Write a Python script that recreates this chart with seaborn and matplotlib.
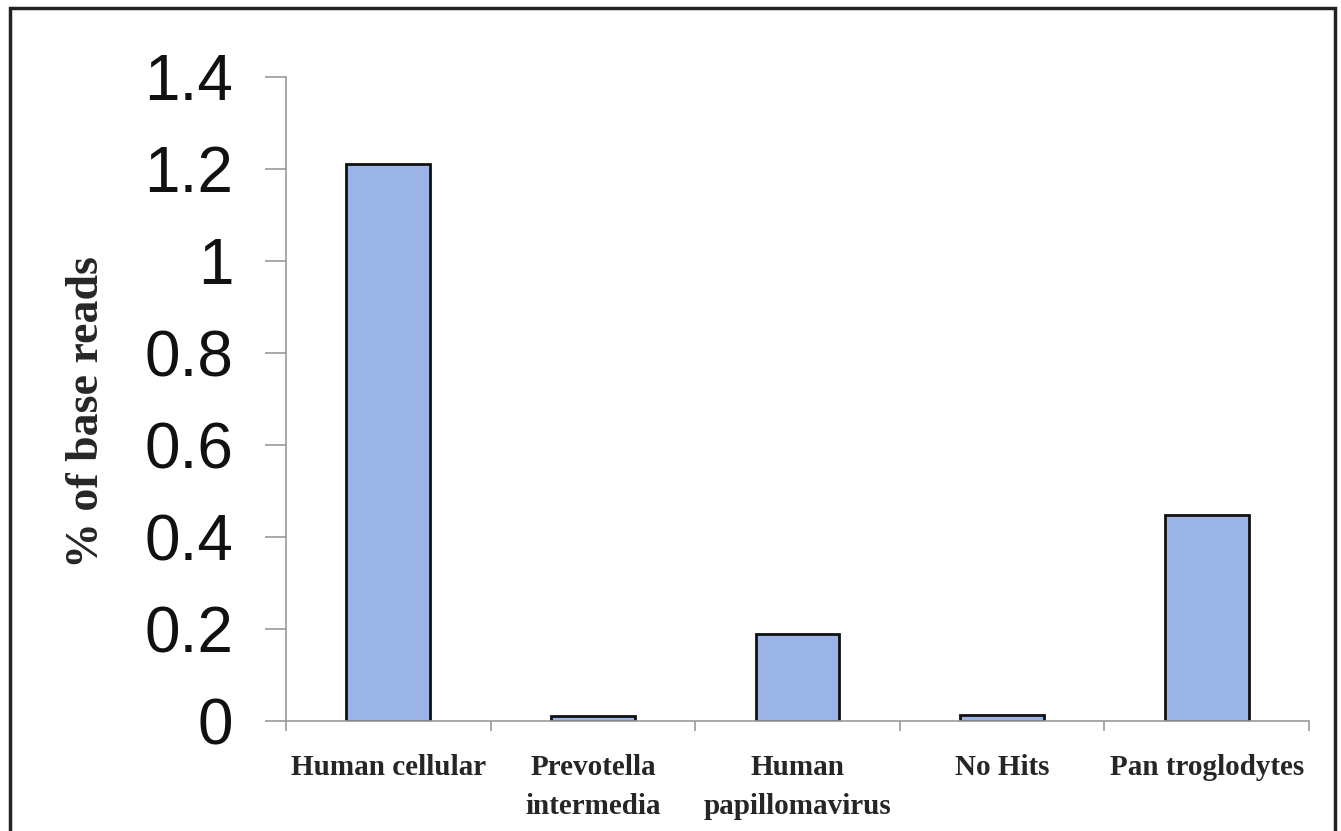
"""
Percentual de base reads por organismo — gráfico de barras.
"""

import matplotlib
matplotlib.use("Agg")
import matplotlib.pyplot as plt
import seaborn as sns
import pandas as pd
from matplotlib.patches import Rectangle

categorias = [
    "Human cellular",
    "Prevotella\nintermedia",
    "Human\npapillomavirus",
    "No Hits",
    "Pan troglodytes",
]
valores = [1.21, 0.011, 0.19, 0.014, 0.448]
yticks = [0, 0.2, 0.4, 0.6, 0.8, 1, 1.2, 1.4]
ytick_labels = ["0", "0.2", "0.4", "0.6", "0.8", "1", "1.2", "1.4"]

df = pd.DataFrame({"categoria": categorias, "valor": valores})

sns.set_style("white")
plt.rcParams["font.family"] = ["Liberation Sans", "DejaVu Sans"]

fig = plt.figure(figsize=(13.41, 8.31), dpi=100)
ax = fig.add_axes([286 / 1341, 1 - 721 / 831, (1309 - 286) / 1341, (721 - 77) / 831])

sns.barplot(
    data=df, x="categoria", y="valor", ax=ax,
    color="#9BB4E8", saturation=1, width=0.41,
    edgecolor="#111111", linewidth=2,
)

ax.set_ylim(0, 1.4)
ax.set_xlim(-0.5, 4.5)
ax.set_yticks(yticks)
ax.set_yticklabels(ytick_labels, fontsize=46)
ax.set_xticks([i - 0.5 for i in range(6)], minor=True)
ax.set_xticks(range(5))
ax.set_xticklabels(categorias, fontsize=21, fontweight="bold",
                   family="Liberation Serif", linespacing=1.55, va="top")
ax.tick_params(axis="x", which="major", bottom=False, length=0, pad=24)
ax.tick_params(axis="x", which="minor", bottom=True, length=7, color="#999999", width=1.2)
ax.tick_params(axis="y", left=True, length=15, color="#999999", width=1.2, pad=23,
               labelcolor="#111111")

ax.set_xlabel("")
ax.set_ylabel("% of base reads", fontsize=33, fontweight="bold",
              family="Liberation Serif")
ax.yaxis.set_label_coords(-178 / 1023, 0.48)

for side in ["top", "right"]:
    ax.spines[side].set_visible(False)
for side in ["left", "bottom"]:
    ax.spines[side].set_color("#999999")
    ax.spines[side].set_linewidth(1.2)

# moldura em volta da figura (borda de baixo fica fora da imagem)
fig.patches.append(Rectangle(
    (10 / 1341, -0.05), (1335 - 10) / 1341, 1.05 - 8 / 831,
    transform=fig.transFigure, fill=False, edgecolor="#222222", linewidth=2.5,
))

plt.savefig("out.png", dpi=100)
plt.close()
